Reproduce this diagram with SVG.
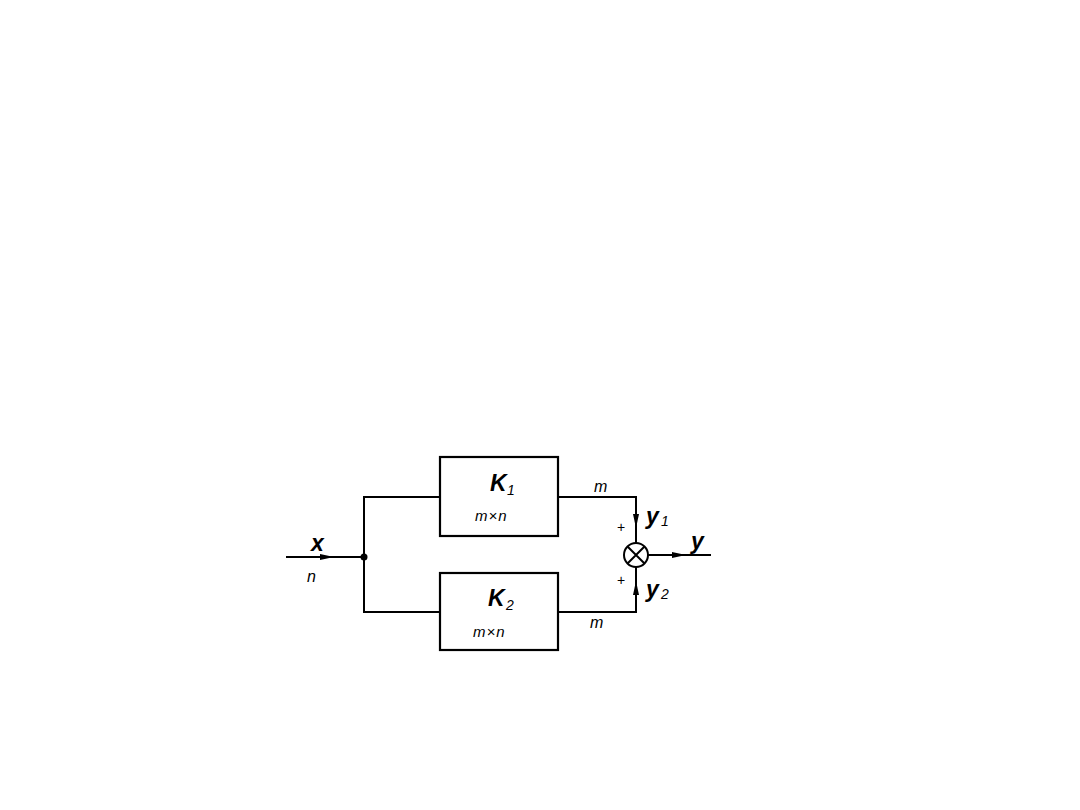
<svg xmlns="http://www.w3.org/2000/svg" width="1080" height="810" viewBox="0 0 1080 810">
<style>
.ln{fill:none;stroke:#000;stroke-width:2}
.bx{fill:#fff;stroke:#000;stroke-width:2.2}
.big{font-family:"Liberation Sans",Arial,sans-serif;font-weight:bold;font-style:italic;font-size:23px}
.sub{font-family:"Liberation Sans",Arial,sans-serif;font-style:italic;font-size:14px}
.mn{font-family:"Liberation Sans",Arial,sans-serif;font-style:italic;font-size:15px;letter-spacing:1px}
.sm{font-family:"Liberation Sans",Arial,sans-serif;font-style:italic;font-size:16px}
.pl{font-family:"Liberation Sans",Arial,sans-serif;font-size:14px}
</style>
<defs>
<marker id="ar" viewBox="0 0 14 6" refX="14" refY="3" markerWidth="14" markerHeight="6" markerUnits="userSpaceOnUse" orient="auto">
<path d="M0,0 L14,3 L0,6 Z" fill="#000"/>
</marker>
</defs>
<rect width="1080" height="810" fill="#fff"/>
<g id="connectors">
<path class="ln" d="M286,557 H364"/>
<path class="ln" d="M300,557 H334" marker-end="url(#ar)"/>
<path class="ln" d="M440,497 H364 V612 H440"/>
<path class="ln" d="M558,497 H636 V543"/>
<path class="ln" d="M636,510 V528" marker-end="url(#ar)"/>
<path class="ln" d="M558,612 H636 V567"/>
<path class="ln" d="M636,600 V581" marker-end="url(#ar)"/>
<path class="ln" d="M648,555 H711"/>
<path class="ln" d="M660,555 H686" marker-end="url(#ar)"/>
<circle cx="364" cy="557" r="3.5" fill="#000"/>
</g>
<g id="k1">
<rect class="bx" x="440" y="457" width="118" height="79"/>
<text class="big" x="490" y="491">K</text><text class="sub" x="507" y="495">1</text>
<text class="mn" x="475" y="521">m×n</text>
</g>
<g id="k2">
<rect class="bx" x="440" y="573" width="118" height="77"/>
<text class="big" x="488" y="606">K</text><text class="sub" x="506" y="610">2</text>
<text class="mn" x="473" y="637">m×n</text>
</g>
<g id="sum">
<circle cx="636" cy="555" r="12" fill="#fff" stroke="#000" stroke-width="2"/>
<path class="ln" d="M627.5,546.5 L644.5,563.5 M644.5,546.5 L627.5,563.5" stroke-width="1.6"/>
</g>
<g id="labels">
<text class="big" x="311" y="551">x</text>
<text class="sm" x="307" y="582">n</text>
<text class="sm" x="594" y="492">m</text>
<text class="sm" x="590" y="628">m</text>
<text class="big" x="646" y="524">y</text><text class="sub" x="661" y="526">1</text>
<text class="big" x="646" y="597">y</text><text class="sub" x="661" y="599">2</text>
<text class="big" x="691" y="549">y</text>
<text class="pl" x="617" y="532">+</text>
<text class="pl" x="617" y="585">+</text>
</g>
</svg>
